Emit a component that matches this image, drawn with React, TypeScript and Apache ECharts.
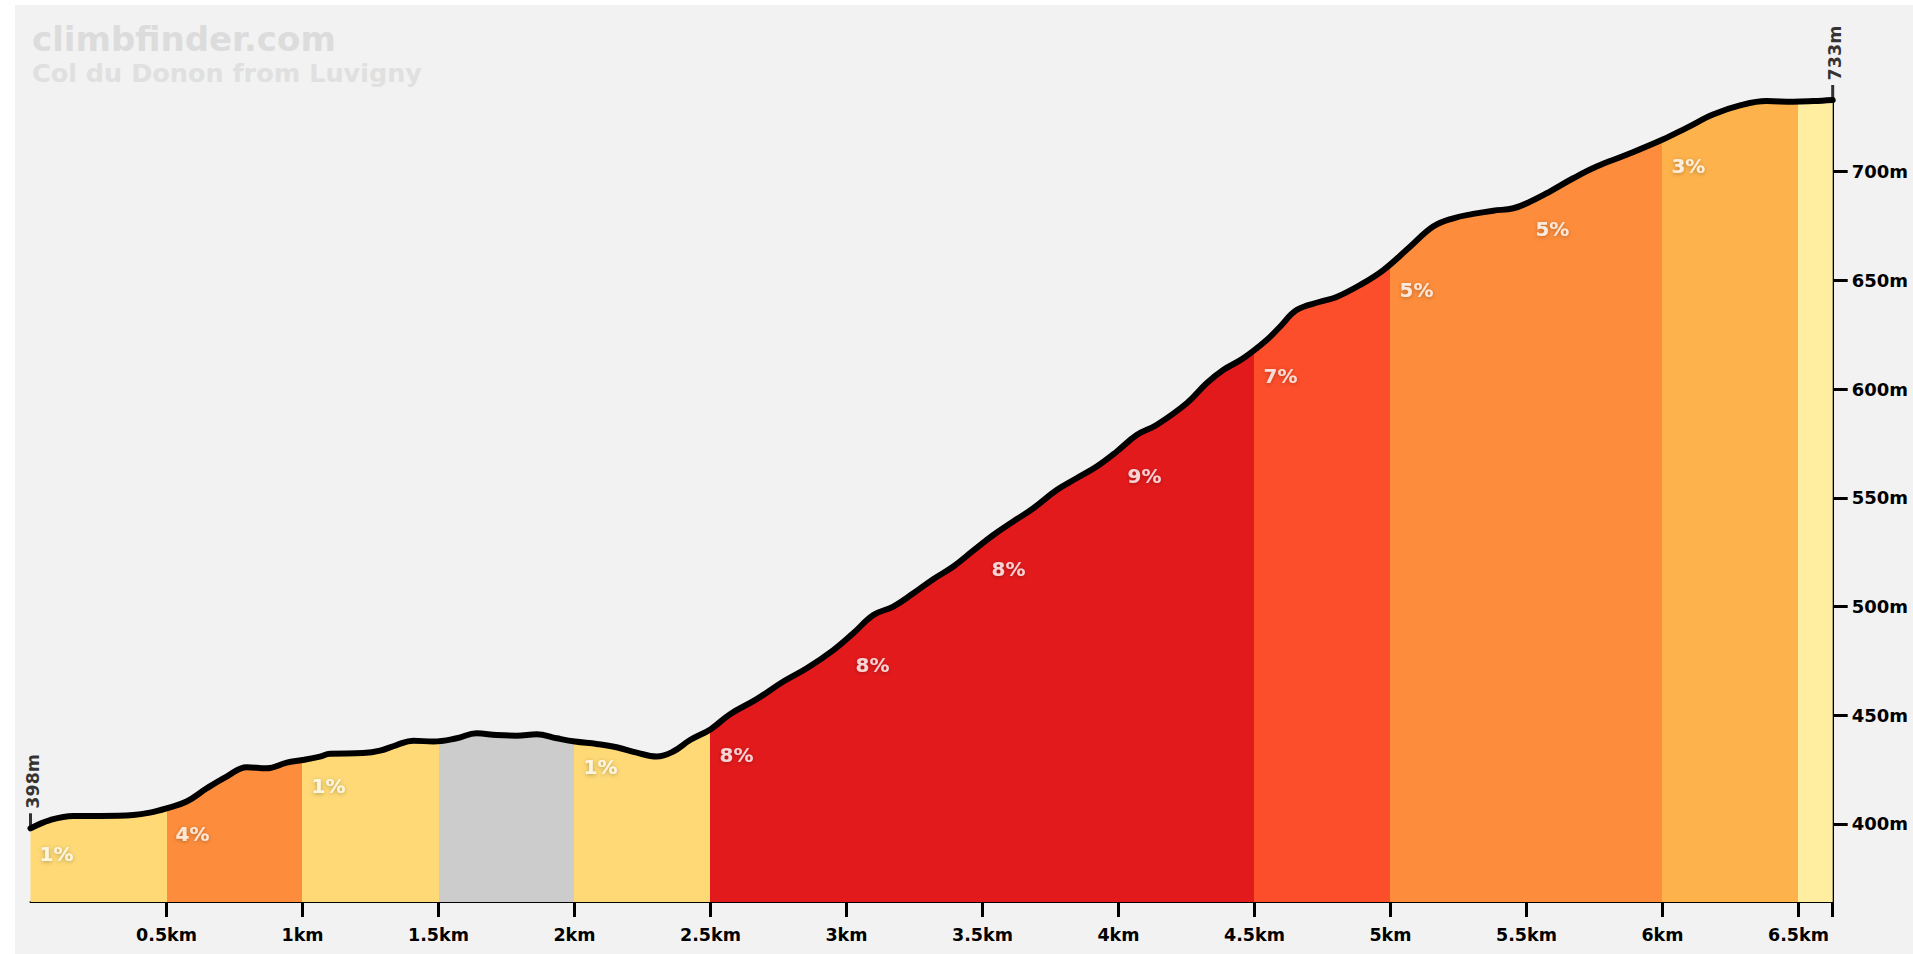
import React, { useEffect, useRef } from "react";
import * as echarts from "echarts";

// Profile: distance (km) and elevation (m)
const DIST_KM = [
  0.0, 0.072, 0.157, 0.256, 0.378, 0.439, 0.5, 0.574, 0.648, 0.721, 0.795, 0.868, 0.942, 1.0,
  1.064, 1.101, 1.223, 1.285, 1.346, 1.407, 1.481, 1.567, 1.64, 1.714, 1.788, 1.861, 1.935, 2.002,
  2.082, 2.155, 2.229, 2.302, 2.363, 2.425, 2.501, 2.572, 2.67, 2.768, 2.854, 2.952, 3.025, 3.099,
  3.172, 3.246, 3.319, 3.393, 3.466, 3.54, 3.613, 3.687, 3.773, 3.846, 3.92, 3.993, 4.067, 4.14,
  4.251, 4.324, 4.385, 4.459, 4.545, 4.594, 4.655, 4.741, 4.802, 4.888, 4.974, 5.072, 5.157, 5.231,
  5.304, 5.378, 5.452, 5.513, 5.586, 5.672, 5.758, 5.868, 5.999, 6.089, 6.186, 6.285, 6.383, 6.481,
  6.555, 6.626,
];
const ELEV_M = [
  398, 401.8, 403.7, 403.7, 404.1, 405.2, 407.2, 410.3, 416.4, 421.8, 426.1, 425.6, 428.2, 429.4,
  431.0, 432.3, 432.6, 433.7, 436.3, 438.3, 437.9, 439.4, 441.7, 440.9, 440.6, 441.3, 439.4, 437.9,
  436.8, 435.3, 432.8, 431.0, 433.3, 438.6, 443.6, 450.5, 457.4, 465.5, 471.6, 480.0, 487.7, 496.1,
  500.0, 506.1, 512.6, 518.4, 525.7, 532.9, 539.1, 545.2, 553.6, 559.0, 564.4, 571.2, 578.9, 583.5,
  593.5, 602.7, 608.8, 614.2, 622.6, 628.7, 636.4, 640.2, 642.4, 647.9, 654.8, 665.5, 674.8, 678.6,
  680.6, 682.1, 683.2, 686.2, 690.9, 697.0, 702.4, 707.8, 714.7, 720.2, 726.3, 730.5, 732.5, 732.2,
  732.5, 733,
];

// Gradient segments
const SEGMENT_STARTS_KM = [0, 0.5, 1, 1.5, 2, 2.5, 3, 3.5, 4, 4.5, 5, 5.5, 6, 6.5];
const SEGMENT_GRADES = ["1%", "4%", "1%", "", "1%", "8%", "8%", "8%", "9%", "7%", "5%", "5%", "3%", ""];
const SEGMENT_COLORS = [
  "#fed976", "#fd8d3c", "#fed976", "#cccccc", "#fed976", "#e31a1c", "#e31a1c",
  "#e31a1c", "#e31a1c", "#fc4e2a", "#fd8d3c", "#fd8d3c", "#feb24c", "#ffeda0",
];

// Axis ticks
const X_TICKS_KM = [0.5, 1, 1.5, 2, 2.5, 3, 3.5, 4, 4.5, 5, 5.5, 6, 6.5];
const Y_TICKS_M = [400, 450, 500, 550, 600, 650, 700];
const Y_MIN_M = 364.1;

const TITLE = "climbfinder.com";
const SUBTITLE = "Col du Donon from Luvigny";

const FONT = "'DejaVu Sans', sans-serif";

function elevAt(km: number): number {
  for (let i = 0; i < DIST_KM.length - 1; i++) {
    if (km >= DIST_KM[i] && km <= DIST_KM[i + 1]) {
      const t = (km - DIST_KM[i]) / (DIST_KM[i + 1] - DIST_KM[i]);
      return ELEV_M[i] + t * (ELEV_M[i + 1] - ELEV_M[i]);
    }
  }
  return ELEV_M[ELEV_M.length - 1];
}

export default function App() {
  const ref = useRef<HTMLDivElement>(null);

  useEffect(() => {
    if (!ref.current) return;
    const chart = echarts.init(ref.current, undefined, { renderer: "svg" });
    const totalKm = DIST_KM[DIST_KM.length - 1];
    const lineData = DIST_KM.map((d, i) => [d, ELEV_M[i]]);

    const stops: { offset: number; color: string }[] = [];
    SEGMENT_STARTS_KM.forEach((s, i) => {
      const e = i + 1 < SEGMENT_STARTS_KM.length ? SEGMENT_STARTS_KM[i + 1] : totalKm;
      stops.push({ offset: s / totalKm, color: SEGMENT_COLORS[i] });
      stops.push({ offset: Math.min(e / totalKm, 1), color: SEGMENT_COLORS[i] });
    });

    const gradeData = SEGMENT_STARTS_KM.map((s, i) => [s, elevAt(s), SEGMENT_GRADES[i]]).filter(
      (d) => d[2] !== ""
    );
    const endData = [
      [DIST_KM[0], ELEV_M[0], `${ELEV_M[0]}m`],
      [totalKm, ELEV_M[ELEV_M.length - 1], `${ELEV_M[ELEV_M.length - 1]}m`],
    ];

    chart.setOption({
      animation: false,
      backgroundColor: "transparent",
      grid: { left: 15.5, right: 80.3, top: 95, bottom: 52, containLabel: false },
      xAxis: {
        type: "value",
        min: 0,
        max: totalKm,
        axisLine: { show: true, onZero: false, lineStyle: { color: "#000", width: 2 } },
        axisTick: {
          show: true,
          length: 15,
          lineStyle: { color: "#000", width: 3 },
          customValues: [...X_TICKS_KM, totalKm],
        },
        axisLabel: {
          customValues: X_TICKS_KM,
          formatter: (v: number) => `${v}km`,
          color: "#000",
          fontWeight: "bold",
          fontSize: 17.5,
          fontFamily: FONT,
          margin: 24,
        },
        splitLine: { show: false },
      },
      yAxis: {
        type: "value",
        position: "right",
        min: Y_MIN_M,
        max: ELEV_M[ELEV_M.length - 1],
        axisLine: { show: true, onZero: false, lineStyle: { color: "#000", width: 2 } },
        axisTick: {
          show: true,
          length: 15,
          lineStyle: { color: "#000", width: 3 },
          customValues: Y_TICKS_M,
        },
        axisLabel: {
          customValues: Y_TICKS_M,
          formatter: (v: number) => `${v}m`,
          color: "#000",
          fontWeight: "bold",
          fontSize: 18,
          fontFamily: FONT,
          margin: 19,
        },
        splitLine: { show: false },
      },
      graphic: [
        {
          type: "text",
          left: 17,
          top: 17,
          style: {
            text: TITLE,
            fill: "#dcdcdc",
            font: `bold 34px ${FONT}`,
          },
        },
        {
          type: "text",
          left: 17,
          top: 55,
          style: {
            text: SUBTITLE,
            fill: "#e0e0e0",
            font: `bold 25.5px ${FONT}`,
          },
        },
      ],
      series: [
        {
          type: "line",
          data: lineData,
          smooth: 0.4,
          showSymbol: false,
          silent: true,
          lineStyle: { color: "#000", width: 6, cap: "round", join: "round" },
          areaStyle: {
            origin: "start",
            opacity: 1,
            color: new echarts.graphic.LinearGradient(0, 0, 1, 0, stops),
          },
          z: 2,
        },
        {
          type: "scatter",
          data: gradeData,
          symbolSize: 1,
          clip: false,
          silent: true,
          itemStyle: { color: "transparent" },
          label: {
            show: true,
            position: "inside",
            offset: [26, 26],
            formatter: (p: any) => p.data[2],
            color: "#fff",
            fontSize: 20,
            fontWeight: "bold",
            fontFamily: FONT,
            textShadowColor: "rgba(0,0,0,0.35)",
            textShadowBlur: 4,
            textShadowOffsetY: 1,
          },
          z: 3,
        },
        {
          type: "scatter",
          data: endData,
          symbol: "rect",
          symbolSize: [3, 15],
          symbolOffset: [0, -7.5],
          clip: false,
          silent: true,
          itemStyle: { color: "#000" },
          label: {
            show: true,
            position: "inside",
            rotate: 90,
            offset: [39.5, 2],
            formatter: (p: any) => p.data[2],
            color: "#000",
            fontSize: 17.5,
            fontWeight: "bold",
            fontFamily: FONT,
          },
          z: 4,
        },
      ],
    });

    return () => chart.dispose();
  }, []);

  return (
    <div
      style={{
        position: "absolute",
        left: 15,
        top: 5,
        width: 1898,
        height: 949,
        background: "#f2f2f2",
      }}
    >
      <div ref={ref} style={{ width: "100%", height: "100%" }} />
    </div>
  );
}
